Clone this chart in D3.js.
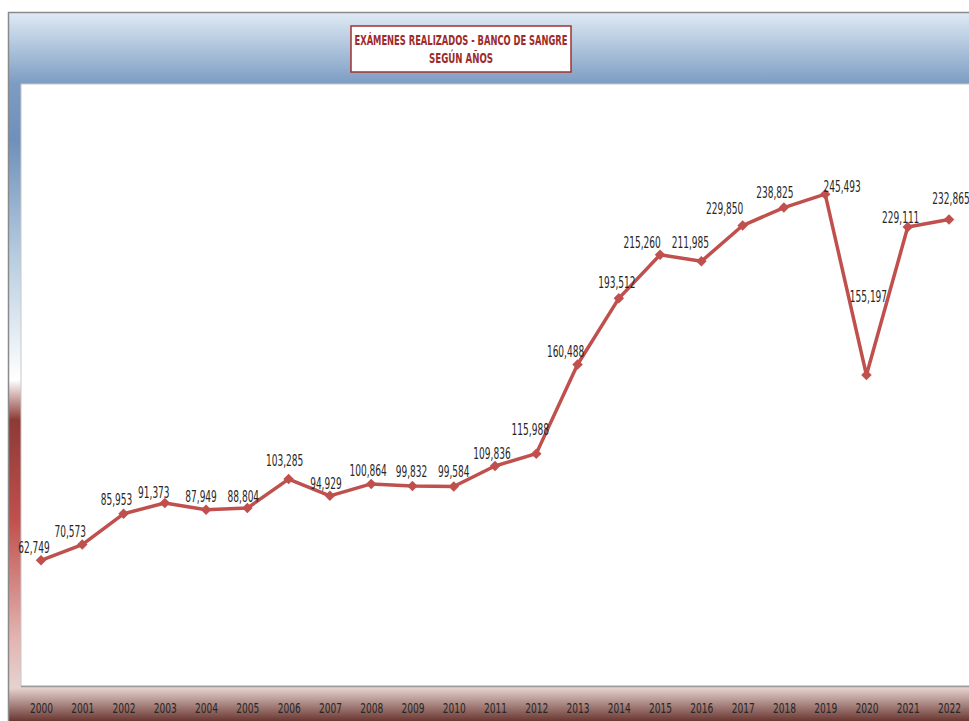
<!DOCTYPE html>
<html>
<head>
<meta charset="utf-8">
<script src="https://cdn.jsdelivr.net/npm/d3@7"></script>
<style>
  html, body { margin: 0; padding: 0; background: #fff; }
  svg { display: block; }
  text { font-family: "Liberation Sans Narrow", "DejaVu Sans Condensed", "Arial Narrow", "Liberation Sans", sans-serif; }
</style>
</head>
<body>
<svg id="js-svg"></svg>
<script>
const width = 969;
const height = 721;

const years = ["2000", "2001", "2002", "2003", "2004", "2005", "2006", "2007", "2008", "2009", "2010", "2011",
  "2012", "2013", "2014", "2015", "2016", "2017", "2018", "2019", "2020", "2021", "2022"];
const examenes = [62749, 70573, 85953, 91373, 87949, 88804, 103285, 94929, 100864, 99832, 99584, 109836,
  115988, 160488, 193512, 215260, 211985, 229850, 238825, 245493, 155197, 229111, 232865];
const titleLines = ["EXÁMENES REALIZADOS - BANCO DE SANGRE", "SEGÚN AÑOS"];

// label nudges (dx, dy from the point) as placed in the original
const labelNudge = [[-7, -7], [-12, -8], [-7, -9], [-11, -5], [-5, -8], [-4, -6], [-4, -13], [-4, -7],
  [-3, -8], [-1, -9], [0, -10], [-3, -7], [-6, -19], [-12, -7], [-2, -10], [-18, -7], [-11, -13],
  [-18, -12], [-9, -10], [17, -2], [2, -73], [-7, -4], [2, -15]];

const svg = d3.select("#js-svg").attr("width", width).attr("height", height);
const defs = svg.append("defs");

// background gradient of the chart area
const bg = defs.append("linearGradient")
  .attr("id", "bg-grad")
  .attr("gradientUnits", "userSpaceOnUse")
  .attr("x1", 0).attr("y1", 12).attr("x2", 0).attr("y2", height);
[
  [12, "#e0ebf5"], [84, "#7c9cc2"], [140, "#6f90bb"], [260, "#b9cee1"], [380, "#ffffff"],
  [420, "#8d3a36"], [520, "#c0504d"], [640, "#e3b5b2"], [688, "#e6d2cf"], [721, "#6a3731"]
].forEach(([y, c]) => {
  bg.append("stop").attr("offset", (y - 12) / (height - 12)).attr("stop-color", c);
});

svg.append("rect")
  .attr("x", 8).attr("y", 12)
  .attr("width", width - 8).attr("height", height - 12)
  .attr("fill", "url(#bg-grad)");

svg.append("path")
  .attr("d", `M8.5,${height}V12.5H${width}`)
  .attr("fill", "none")
  .attr("stroke", "#8a8a8a")
  .attr("stroke-width", 1.5);

// plot area
const plot = { left: 21, top: 84, right: width + 2, bottom: 686 };

svg.append("rect")
  .attr("x", plot.left).attr("y", plot.top)
  .attr("width", plot.right - plot.left).attr("height", plot.bottom - plot.top)
  .attr("fill", "#ffffff")
  .attr("stroke", "#c8c8c8")
  .attr("stroke-width", 1);

svg.append("line")
  .attr("x1", plot.left).attr("x2", width)
  .attr("y1", plot.bottom + 0.5).attr("y2", plot.bottom + 0.5)
  .attr("stroke", "#9a9a9a")
  .attr("stroke-width", 1.5);

const x = d3.scalePoint().domain(years).range([41, 949]);
const y = d3.scaleLinear().domain([0, 300000]).range([plot.bottom, 85]);

// x axis labels
const xAxis = svg.append("g")
  .attr("transform", `translate(0,${plot.bottom})`)
  .call(d3.axisBottom(x).tickSize(0).tickPadding(0));
xAxis.select(".domain").remove();
xAxis.selectAll("text")
  .attr("y", 27)
  .attr("dy", 0)
  .attr("fill", "#262626")
  .style("font-size", "14px")
  .attr("textLength", 23)
  .attr("lengthAdjust", "spacingAndGlyphs");

const color = "#c0504d";

const line = d3.line()
  .x((d, i) => x(years[i]))
  .y((d) => y(d));

svg.append("path")
  .datum(examenes)
  .attr("d", line)
  .attr("fill", "none")
  .attr("stroke", color)
  .attr("stroke-width", 3.5)
  .attr("stroke-linejoin", "round");

svg.append("g")
  .selectAll("path")
  .data(examenes)
  .join("path")
  .attr("d", d3.symbol().type(d3.symbolSquare).size(55))
  .attr("transform", (d, i) => `translate(${x(years[i])},${y(d)}) rotate(45)`)
  .attr("fill", color);

const fmt = d3.format(",");
svg.append("g")
  .selectAll("text")
  .data(examenes)
  .join("text")
  .attr("x", (d, i) => x(years[i]) + labelNudge[i][0])
  .attr("y", (d, i) => y(d) + labelNudge[i][1])
  .attr("text-anchor", "middle")
  .attr("fill", "#262626")
  .style("font-size", "15px")
  .attr("textLength", (d) => fmt(d).replace(/,/g, "").length * 5.8 + 2.5)
  .attr("lengthAdjust", "spacingAndGlyphs")
  .text((d) => fmt(d));

// title box
const titleBox = svg.append("g").attr("id", "title-group");
titleBox.append("rect")
  .attr("x", 351).attr("y", 26)
  .attr("width", 220).attr("height", 46)
  .attr("fill", "#ffffff")
  .attr("stroke", "#a3302f")
  .attr("stroke-width", 1.5);

titleBox.selectAll("text")
  .data(titleLines)
  .join("text")
  .attr("x", 461)
  .attr("y", (d, i) => 45 + i * 18)
  .attr("text-anchor", "middle")
  .attr("fill", "#9e2b2b")
  .style("font-size", "14px")
  .style("font-weight", "bold")
  .attr("textLength", (d, i) => (i === 0 ? 213 : 64))
  .attr("lengthAdjust", "spacingAndGlyphs")
  .text((d) => d);
</script>
</body>
</html>
